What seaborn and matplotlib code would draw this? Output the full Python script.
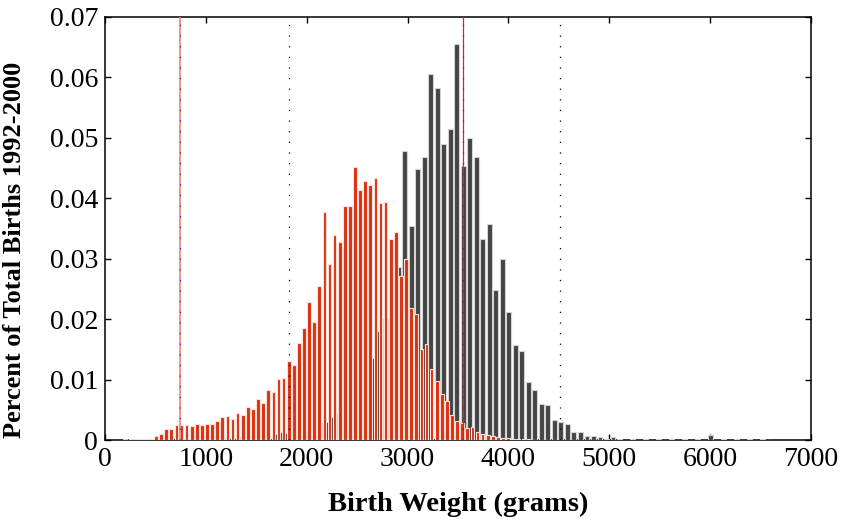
import numpy as np
import pandas as pd
import matplotlib
matplotlib.use("Agg")
from matplotlib import pyplot as plt
import seaborn as sns

# red histogram: bin start (g), bin width (g), heights
red_start, red_width = 202, 50.6
red_values = [0.00005, 0.0001, 0.0001, 0.0002, 0.0002, 0.0002, 0.0007, 0.001,
              0.0019, 0.0018, 0.0025, 0.0025, 0.0025, 0.0023, 0.0027, 0.0024,
              0.0026, 0.0026, 0.0032, 0.0038, 0.004, 0.0034, 0.0045, 0.0042,
              0.0054, 0.0052, 0.0068, 0.0061, 0.0083, 0.0079, 0.0101, 0.0102,
              0.013, 0.0124, 0.0161, 0.0185, 0.0228, 0.0195, 0.0255, 0.0377,
              0.0291, 0.0339, 0.0328, 0.0387, 0.0387, 0.0451, 0.0414, 0.0429,
              0.0422, 0.0433, 0.0392, 0.0394, 0.0333, 0.0345, 0.0272, 0.0299,
              0.0219, 0.0209, 0.015, 0.0159, 0.0118, 0.0098, 0.0076, 0.0064,
              0.0042, 0.0031, 0.0028, 0.002, 0.0021, 0.0014, 0.001, 0.0008,
              0.0007, 0.0005, 0.0003, 0.0003, 0.0002, 0.0001, 0.0001, 0.0001,
              0.00005, 0.00005]

# dark histogram
gray_start, gray_width = 198, 64.5
gray_values = [0.0001, 0.0001, 0.0001, 0.0001, 0.0001, 0.0001, 0.0001, 0.0001,
               0.0001, 0.0001, 0.0001, 0.0002, 0.0002, 0.0002, 0.0003, 0.0003,
               0.0004, 0.0004, 0.0005, 0.0006, 0.0006, 0.0008, 0.0009, 0.001,
               0.0013, 0.0011, 0.0012, 0.0015, 0.0018, 0.002, 0.0028, 0.003,
               0.0038, 0.0045, 0.0062, 0.0075, 0.0095, 0.011, 0.0135, 0.0181,
               0.020, 0.024, 0.0286, 0.0479, 0.0354, 0.0449, 0.0468, 0.0606,
               0.0582, 0.049, 0.0515, 0.0656, 0.0453, 0.0499, 0.0468, 0.0333,
               0.0358, 0.0249, 0.030, 0.0211, 0.0158, 0.0148, 0.0096, 0.0083,
               0.006, 0.0058, 0.0033, 0.0029, 0.0026, 0.0014, 0.0013, 0.0007,
               0.0007, 0.0005, 0.0002, 0.0005, 0.0001, 0.0, 0.0001, 0.0,
               0.0001, 0.0, 0.0001, 0.0, 0.0001, 0.0, 0.0001, 0.0,
               0.0001, 0.0, 0.0008, 0.0, 0.0001, 0.0, 0.0001, 0.0,
               0.0001, 0.0, 0.0001, 0.0]

mean_lines = [743, 3549]
sd_lines = [1820, 4515]
x_ticks = [0, 1000, 2000, 3000, 4000, 5000, 6000, 7000]
y_ticks = [0, 0.01, 0.02, 0.03, 0.04, 0.05, 0.06, 0.07]
y_tick_labels = ["0", "0.01", "0.02", "0.03", "0.04", "0.05", "0.06", "0.07"]

sns.set_style("ticks")
plt.rcParams['font.family'] = ['Liberation Serif', 'DejaVu Serif']
plt.rcParams['text.color'] = 'black'
plt.rcParams['axes.labelcolor'] = 'black'
plt.rcParams['xtick.color'] = 'black'
plt.rcParams['ytick.color'] = 'black'


def draw_hist(ax, start, width, values, color, edge):
    n = len(values)
    df = pd.DataFrame({'w': start + width * np.arange(n), 'p': values})
    lo = start - width / 2
    sns.histplot(data=df, x='w', weights='p', binwidth=width,
                 binrange=(lo, lo + width * n), shrink=0.72,
                 color=color, edgecolor=edge, linewidth=0.8, alpha=1, ax=ax)


fig = plt.figure(figsize=(8.43, 5.21), dpi=100)
ax = fig.add_axes([105 / 843, 81 / 521, 706 / 843, 423 / 521])

draw_hist(ax, gray_start, gray_width, gray_values, '#444444', '#d4d4d4')
draw_hist(ax, red_start, red_width, red_values, '#dd3010', '#fbe3dc')
for p in ax.patches:
    p.set_zorder(3)

# mean lines (red with blue dots) and +-2sd lines (black dotted)
ax.axvline(mean_lines[0], color='#f2846f', lw=1.2, zorder=4)
ax.axvline(mean_lines[1], color='#e02a10', lw=0.9, zorder=4)
for m in mean_lines:
    ax.axvline(m, color='#2030d0', lw=0.9, ls=(0, (1, 7.5)), zorder=5)
for s in sd_lines:
    ax.axvline(s, color='black', lw=0.9, ls=(0, (1, 7.5)), zorder=5)

ax.set_xlim(0, 7000)
ax.set_ylim(0, 0.07)
ax.set_xticks(x_ticks)
ax.set_xticklabels([str(t) for t in x_ticks])
ax.set_yticks(y_ticks)
ax.set_yticklabels(y_tick_labels)
ax.tick_params(direction='in', top=True, right=True, length=4.5, width=1,
               labelsize=20, pad=5, colors='black')
for sp in ax.spines.values():
    sp.set_visible(True)
    sp.set_linewidth(1.1)
    sp.set_color('black')

ax.set_xlabel('Birth Weight (grams)', fontsize=20.5, fontweight='bold', labelpad=14)
ax.set_ylabel('Percent of Total Births 1992-2000', fontsize=19, fontweight='bold')
ax.yaxis.set_label_coords(-0.112, 0.45)

fig.savefig('out.png', dpi=100)
